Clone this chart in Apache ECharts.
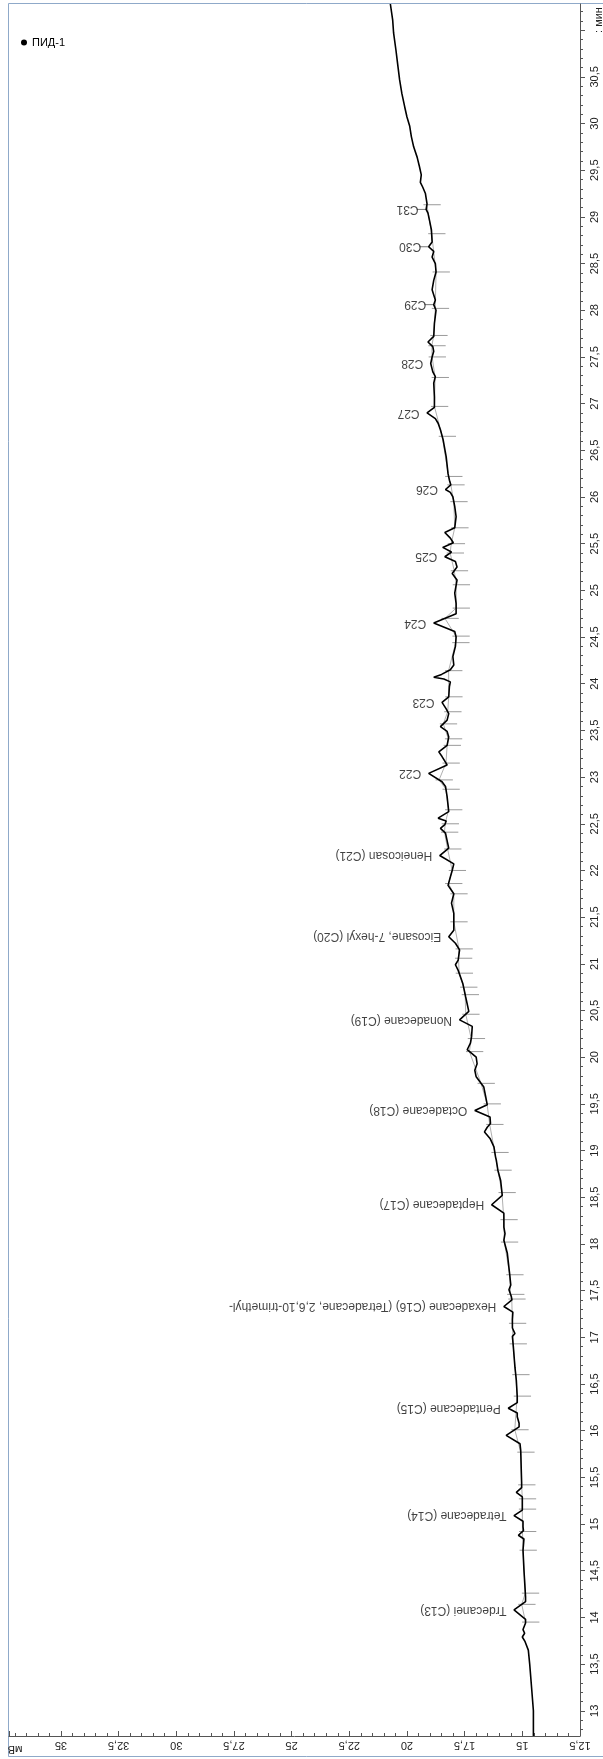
<!DOCTYPE html>
<html>
<head>
<meta charset="utf-8">
<script src="https://cdn.jsdelivr.net/npm/echarts@6/dist/echarts.min.js"></script>
<style>
  html, body { margin: 0; padding: 0; background: #fff; }
  #chart { width: 603px; height: 1759px; }
</style>
</head>
<body>
<div id="chart"></div>
<script>
// FID chromatogram: retention time (min) runs up the right-hand axis, signal (mV) along the bottom.
const timeMin = [
  12.73, 13.00, 13.22, 13.50, 13.65, 13.74, 13.79, 13.83, 13.87, 13.94, 13.98, 14.08, 14.17, 14.22, 14.51,
  14.72, 14.84, 14.88, 14.93, 14.97, 15.03, 15.09, 15.15, 15.19, 15.29, 15.34, 15.39, 15.44, 15.79, 15.86,
  15.95, 16.04, 16.08, 16.15, 16.19, 16.24, 16.30, 16.36, 16.54, 16.68, 16.90, 17.01, 17.04, 17.10, 17.19,
  17.27, 17.33, 17.40, 17.44, 17.51, 17.56, 17.68, 17.90, 18.04, 18.11, 18.18, 18.33, 18.42, 18.52, 18.68,
  18.79, 18.90, 18.93, 19.04, 19.13, 19.20, 19.25, 19.29, 19.36, 19.43, 19.49, 19.58, 19.68, 19.79, 19.86,
  19.93, 20.00, 20.08, 20.15, 20.22, 20.33, 20.40, 20.49, 20.65, 20.79, 20.93, 20.99, 21.04, 21.15, 21.22,
  21.29, 21.36, 21.54, 21.65, 21.75, 21.84, 21.93, 22.00, 22.07, 22.16, 22.24, 22.40, 22.45, 22.49, 22.53,
  22.56, 22.63, 22.79, 22.90, 22.95, 23.04, 23.13, 23.22, 23.27, 23.34, 23.43, 23.49, 23.54, 23.61, 23.68,
  23.73, 23.80, 23.86, 23.97, 24.02, 24.05, 24.07, 24.10, 24.15, 24.20, 24.29, 24.40, 24.50, 24.56, 24.65,
  24.75, 24.86, 24.97, 25.11, 25.18, 25.25, 25.31, 25.36, 25.41, 25.46, 25.51, 25.56, 25.62, 25.67, 25.79,
  25.90, 26.00, 26.05, 26.08, 26.13, 26.18, 26.25, 26.43, 26.61, 26.72, 26.79, 26.84, 26.90, 26.96, 27.07,
  27.22, 27.29, 27.34, 27.43, 27.50, 27.56, 27.61, 27.66, 27.72, 27.86, 28.00, 28.06, 28.11, 28.22, 28.32,
  28.41, 28.50, 28.57, 28.63, 28.68, 28.73, 28.86, 28.97, 29.04, 29.08, 29.14, 29.25, 29.32, 29.37, 29.41,
  29.45, 29.54, 29.64, 29.75, 29.86, 29.97, 30.07, 30.18, 30.32, 30.47, 30.61, 30.79, 30.97, 31.11, 31.28
];
const signalMv = [
  14.52, 14.52, 14.59, 14.68, 14.74, 14.88, 15.00, 14.90, 14.97, 14.86, 14.86, 15.36, 14.86, 14.86, 14.93,
  14.97, 14.93, 15.17, 14.95, 14.97, 14.97, 15.36, 15.00, 15.00, 15.00, 15.26, 15.03, 15.03, 15.07, 15.10,
  15.70, 15.14, 15.14, 15.22, 15.22, 15.61, 15.22, 15.22, 15.26, 15.32, 15.39, 15.43, 15.32, 15.43, 15.43,
  15.41, 15.80, 15.45, 15.48, 15.58, 15.50, 15.55, 15.65, 15.80, 15.75, 15.80, 15.80, 16.33, 15.87, 15.94,
  16.06, 16.13, 16.16, 16.23, 16.40, 16.64, 16.52, 16.38, 16.40, 17.06, 16.52, 16.59, 16.67, 17.00, 17.06,
  16.96, 17.00, 17.39, 17.25, 17.20, 17.17, 17.72, 17.32, 17.46, 17.58, 17.78, 17.90, 17.78, 17.72, 17.90,
  18.19, 17.97, 17.97, 18.07, 17.97, 18.22, 18.12, 18.04, 17.97, 18.58, 18.19, 18.33, 18.55, 18.36, 18.30,
  18.65, 18.19, 18.26, 18.33, 18.48, 19.06, 18.26, 18.48, 18.62, 18.26, 18.19, 18.26, 18.55, 18.26, 18.19,
  18.30, 18.48, 18.19, 18.16, 18.12, 18.40, 18.84, 18.50, 18.12, 17.97, 18.01, 17.90, 17.87, 17.93, 18.84,
  17.87, 17.87, 17.93, 17.83, 18.04, 17.83, 17.90, 18.36, 18.07, 18.45, 17.99, 18.12, 18.36, 17.93, 17.87,
  17.93, 18.01, 18.12, 18.33, 18.10, 18.16, 18.22, 18.30, 18.43, 18.55, 18.65, 18.77, 19.13, 18.81, 18.81,
  18.84, 18.77, 18.88, 18.97, 18.91, 18.84, 18.88, 19.09, 18.84, 18.81, 18.74, 18.84, 18.77, 18.91, 18.84,
  18.74, 18.77, 18.91, 18.84, 19.06, 18.91, 18.94, 19.03, 19.09, 19.17, 19.13, 19.20, 19.32, 19.42, 19.40,
  19.38, 19.46, 19.56, 19.71, 19.81, 19.88, 20.00, 20.10, 20.22, 20.32, 20.39, 20.48, 20.58, 20.62, 20.72
];

// Identified peaks: name and apex retention time
const peakNames = [
  'Trdecanei (C13)', 'Tetradecane (C14)', 'Pentadecane (C15)',
  'Hexadecane (C16) (Tetradecane, 2,6,10-trimethyl-', 'Heptadecane (C17)', 'Octadecane (C18)',
  'Nonadecane (C19)', 'Eicosane, 7-hexyl (C20)', 'Heneicosan (C21)', 'C22', 'C23', 'C24', 'C25',
  'C26', 'C27', 'C28', 'C29', 'C30', 'C31'
];
const peakTimes = [
  14.08, 15.09, 16.24, 17.33, 18.42, 19.43, 20.40, 21.29, 22.16, 23.04, 23.80, 24.65, 25.36,
  26.08, 26.90, 27.43, 28.06, 28.68, 29.08
];
// peaks whose label is joined to the trace by a short leader
const leaderPeaks = ['C29', 'C30', 'C31'];

// Integration boundaries (peak start / end), min
const boundaryTimes = [
  13.95, 14.14, 14.26, 14.72, 14.92, 15.16, 15.27, 15.42, 15.77, 16.01, 16.37, 16.60, 16.93, 17.15,
  17.41, 17.46, 17.67, 18.02, 18.26, 18.55, 18.79, 18.98, 19.28, 19.50, 19.72, 20.06, 20.20, 20.46,
  20.67, 20.75, 20.90, 21.06, 21.16, 21.45, 21.75, 21.86, 22.00, 22.23, 22.41, 22.50, 22.65, 22.87,
  22.97, 23.15, 23.34, 23.41, 23.57, 23.70, 23.86, 24.14, 24.44, 24.51, 24.70, 24.81, 25.06, 25.21,
  25.40, 25.50, 25.67, 25.95, 26.13, 26.22, 26.65, 26.97, 27.28, 27.50, 27.62, 27.73, 28.02, 28.41,
  28.82, 29.13
];

const timeTicks = [13, 13.5, 14, 14.5, 15, 15.5, 16, 16.5, 17, 17.5, 18, 18.5, 19, 19.5, 20, 20.5,
  21, 21.5, 22, 22.5, 23, 23.5, 24, 24.5, 25, 25.5, 26, 26.5, 27, 27.5, 28, 28.5, 29, 29.5, 30, 30.5, 31];
const timeLabels = timeTicks.slice(0, -1);
const timeRange = [12.73, 31.28];
const mvRange = [12.5, 37.25];
const mvStep = 2.5;

// linear interpolation of the trace at a given time
function signalAt(t) {
  for (let i = 1; i < timeMin.length; i++) {
    if (t <= timeMin[i]) {
      const f = (t - timeMin[i - 1]) / (timeMin[i] - timeMin[i - 1]);
      return signalMv[i - 1] + f * (signalMv[i] - signalMv[i - 1]);
    }
  }
  return signalMv[signalMv.length - 1];
}

const minorTimeTicks = [];
for (let k = Math.ceil(timeRange[0] * 10); k <= Math.floor(timeRange[1] * 10); k++) {
  if (k % 5 !== 0) minorTimeTicks.push(k / 10);
}

const comma = v => String(v).replace('.', ',');
const FONT = '"Liberation Sans", Arial, sans-serif';

const traceData = timeMin.map((t, i) => [signalMv[i], t]);
const boundaryData = boundaryTimes.map(t => [signalAt(t), t]);
const peakData = peakTimes.map((t, i) => ({ name: peakNames[i], value: [signalAt(t), t] }));
const leaderData = peakData.filter(p => leaderPeaks.indexOf(p.name) >= 0).map(p => p.value);

const chart = echarts.init(document.getElementById('chart'), null, { renderer: 'canvas' });
chart.setOption({
  animation: false,
  backgroundColor: '#fff',
  textStyle: { fontFamily: FONT },
  grid: { left: 9, right: 23, top: 4, bottom: 23, containLabel: false },
  legend: {
    data: [{ name: 'ПИД-1', icon: 'circle' }],
    left: 16, top: 32, itemWidth: 6, itemHeight: 6, itemGap: 4,
    textStyle: { fontSize: 11, color: '#000', fontFamily: FONT },
    selectedMode: false
  },
  xAxis: {
    type: 'value', inverse: true, position: 'bottom',
    min: mvRange[0], max: mvRange[1], interval: mvStep,
    axisLine: { show: true, onZero: false, lineStyle: { color: '#555', width: 1 } },
    axisTick: { show: true, inside: true, length: 5, lineStyle: { color: '#555' } },
    minorTick: { show: true, splitNumber: 5, length: 3, lineStyle: { color: '#555' } },
    axisLabel: { rotate: 180, margin: 4, fontSize: 11, color: '#222', formatter: comma,
      fontFamily: FONT, showMaxLabel: false },
    splitLine: { show: false }, minorSplitLine: { show: false }
  },
  yAxis: [{
    type: 'value', position: 'right', min: timeRange[0], max: timeRange[1],
    axisLine: { show: true, onZero: false, lineStyle: { color: '#555', width: 1 } },
    axisTick: { show: true, length: 5, customValues: timeTicks, lineStyle: { color: '#555' } },
    axisLabel: { customValues: timeLabels, rotate: 90, margin: 9, fontSize: 11, color: '#222',
      formatter: comma, fontFamily: FONT },
    splitLine: { show: false }
  }, {
    type: 'value', position: 'right', min: timeRange[0], max: timeRange[1],
    axisLine: { show: false },
    axisTick: { show: true, length: 3, customValues: minorTimeTicks, lineStyle: { color: '#555' } },
    axisLabel: { show: false },
    splitLine: { show: false }
  }],
  graphic: [
    { type: 'rect', silent: true, shape: { x: 8.5, y: 3.5, width: 700, height: 1753 },
      style: { fill: null, stroke: '#8fa9c9', lineWidth: 1 } },
    { type: 'text', silent: true, x: 15, y: 1749, rotation: Math.PI,
      style: { text: 'мВ', font: '11px ' + FONT, fill: '#222', align: 'center', verticalAlign: 'middle' } },
    { type: 'text', silent: true, x: 599, y: 20, rotation: Math.PI / 2,
      style: { text: ': мин', font: '11px ' + FONT, fill: '#222', align: 'center', verticalAlign: 'middle' } }
  ],
  series: [
    {
      name: 'baseline', type: 'line', data: boundaryData, silent: true,
      symbol: 'none', lineStyle: { color: '#b0b0b0', width: 1 }, z: 1
    },
    {
      name: 'boundaries', type: 'custom', data: boundaryData, silent: true, z: 2,
      renderItem: function (params, api) {
        const v = api.value(0), t = api.value(1);
        const a = api.coord([v + 0.15, t]);
        const b = api.coord([v - 0.6, t]);
        return { type: 'line', shape: { x1: a[0], y1: a[1], x2: b[0], y2: b[1] },
          style: { stroke: '#9a9a9a', lineWidth: 1 } };
      }
    },
    {
      name: 'leaders', type: 'custom', data: leaderData, silent: true, z: 2,
      renderItem: function (params, api) {
        const v = api.value(0), t = api.value(1);
        const a = api.coord([v, t]);
        const b = api.coord([v + 0.4, t]);
        return { type: 'line', shape: { x1: a[0], y1: a[1], x2: b[0], y2: b[1] },
          style: { stroke: '#777', lineWidth: 1 } };
      }
    },
    {
      name: 'ПИД-1', type: 'line', data: traceData, symbol: 'none', z: 3,
      itemStyle: { color: '#000' },
      lineStyle: { color: '#000', width: 1.6 }
    },
    {
      name: 'peaks', type: 'scatter', data: peakData, silent: true, z: 4,
      symbol: 'circle', symbolSize: 1, itemStyle: { color: 'rgba(0,0,0,0)' },
      label: {
        show: true, position: 'left', distance: 7, align: 'left', verticalAlign: 'middle',
        rotate: 180, formatter: p => p.name, fontSize: 12, color: '#111', fontFamily: FONT
      }
    }
  ]
});
</script>
</body>
</html>
